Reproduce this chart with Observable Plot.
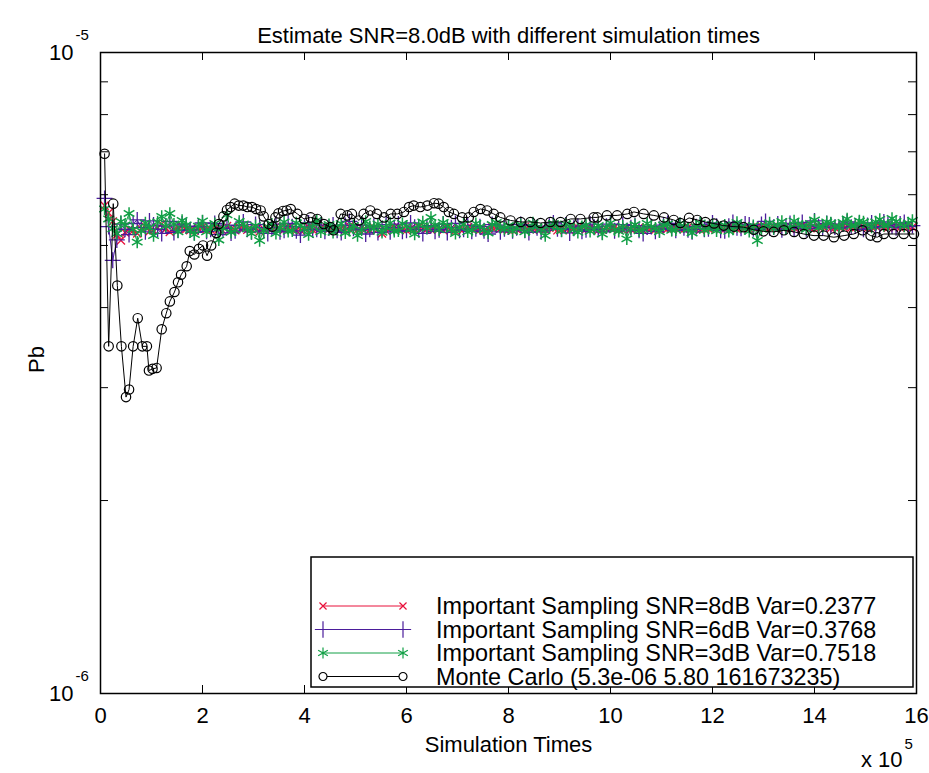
<!DOCTYPE html>
<html>
<head>
<meta charset="utf-8">
<script src="https://cdn.jsdelivr.net/npm/d3@7"></script>
<script src="https://cdn.jsdelivr.net/npm/@observablehq/plot@0.6"></script>
<style>
  html, body { margin: 0; padding: 0; background: white; }
</style>
</head>
<body>
<div id="chart"></div>
<script>
// ---- Data (x in units of 1e5 simulations, Pb in units of 1e-6) ----
const titleText = "Estimate SNR=8.0dB with different simulation times";
const xLabelText = "Simulation Times";
const yLabelText = "Pb";
const xTicks = [0, 2, 4, 6, 8, 10, 12, 14, 16];
const yTicks = [1, 2, 3, 4, 5, 6, 7, 8, 9, 10];
const yTickLabels = [{v: 1, base: "10", exp: "-6"}, {v: 10, base: "10", exp: "-5"}];
const seriesNames = [
  "Important Sampling SNR=8dB Var=0.2377",
  "Important Sampling SNR=6dB Var=0.3768",
  "Important Sampling SNR=3dB Var=0.7518",
  "Monte Carlo (5.3e-06 5.80 161673235)"
];

const isTimes = [
  0.08,0.16,0.24,0.32,0.40,0.48,0.56,0.64,0.72,0.80,0.88,0.96,1.04,1.12,1.20,1.28,1.36,1.44,1.52,1.60,
  1.68,1.76,1.84,1.92,2.00,2.08,2.16,2.24,2.32,2.40,2.48,2.56,2.64,2.72,2.80,2.88,2.96,3.04,3.12,3.20,
  3.28,3.36,3.44,3.52,3.60,3.68,3.76,3.84,3.92,4.00,4.08,4.16,4.24,4.32,4.40,4.48,4.56,4.64,4.72,4.80,
  4.88,4.96,5.04,5.12,5.20,5.28,5.36,5.44,5.52,5.60,5.68,5.76,5.84,5.92,6.00,6.08,6.16,6.24,6.32,6.40,
  6.48,6.56,6.64,6.72,6.80,6.88,6.96,7.04,7.12,7.20,7.28,7.36,7.44,7.52,7.60,7.68,7.76,7.84,7.92,8.00,
  8.08,8.16,8.24,8.32,8.40,8.48,8.56,8.64,8.72,8.80,8.88,8.96,9.04,9.12,9.20,9.28,9.36,9.44,9.52,9.60,
  9.68,9.76,9.84,9.92,10.00,10.08,10.16,10.24,10.32,10.40,10.48,10.56,10.64,10.72,10.80,10.88,10.96,11.04,11.12,11.20,
  11.28,11.36,11.44,11.52,11.60,11.68,11.76,11.84,11.92,12.00,12.08,12.16,12.24,12.32,12.40,12.48,12.56,12.64,12.72,12.80,
  12.88,12.96,13.04,13.12,13.20,13.28,13.36,13.44,13.52,13.60,13.68,13.76,13.84,13.92,14.00,14.08,14.16,14.24,14.32,14.40,
  14.48,14.56,14.64,14.72,14.80,14.88,14.96,15.04,15.12,15.20,15.28,15.36,15.44,15.52,15.60,15.68,15.76,15.84,15.92
];

const is8dB = [
  5.77,5.62,5.45,5.20,5.09,5.24,5.30,5.27,5.22,5.31,5.35,5.26,5.28,5.33,5.40,5.30,5.25,5.29,5.33,5.36,
  5.30,5.28,5.27,5.31,5.34,5.30,5.29,5.33,5.31,5.27,5.36,5.30,5.28,5.34,5.32,5.29,5.30,5.32,5.26,5.31,
  5.33,5.30,5.35,5.32,5.29,5.34,5.31,5.28,5.28,5.31,5.34,5.29,5.30,5.33,5.32,5.30,5.27,5.32,5.31,5.29,
  5.36,5.31,5.29,5.33,5.30,5.28,5.33,5.30,5.22,5.27,5.31,5.33,5.34,5.30,5.28,5.31,5.30,5.34,5.32,5.30,
  5.29,5.32,5.31,5.28,5.33,5.30,5.27,5.31,5.30,5.34,5.32,5.30,5.29,5.27,5.31,5.33,5.34,5.31,5.30,5.29,
  5.28,5.30,5.31,5.34,5.33,5.29,5.30,5.31,5.29,5.33,5.32,5.28,5.31,5.30,5.28,5.32,5.33,5.31,5.30,5.33,
  5.31,5.28,5.29,5.31,5.32,5.34,5.30,5.29,5.33,5.30,5.31,5.33,5.28,5.31,5.32,5.29,5.30,5.33,5.31,5.32,
  5.33,5.31,5.30,5.34,5.32,5.30,5.29,5.32,5.31,5.33,5.34,5.31,5.30,5.35,5.33,5.30,5.32,5.34,5.31,5.33,
  5.34,5.36,5.32,5.33,5.35,5.31,5.33,5.35,5.31,5.33,5.34,5.37,5.36,5.32,5.33,5.34,5.35,5.36,5.32,5.33,
  5.34,5.35,5.36,5.33,5.33,5.37,5.35,5.32,5.34,5.36,5.37,5.34,5.33,5.37,5.35,5.33,5.36,5.35,5.34
];

const is6dB = [
  5.92,5.35,4.74,5.10,5.40,5.30,5.20,5.41,5.48,5.33,5.25,5.46,5.38,5.30,5.22,5.36,5.45,5.24,5.28,5.40,
  5.36,5.29,5.24,5.35,5.42,5.26,5.30,5.41,5.20,5.31,5.38,5.23,5.27,5.37,5.44,5.30,5.25,5.39,5.33,5.27,
  5.22,5.33,5.40,5.25,5.28,5.41,5.35,5.27,5.19,5.34,5.42,5.29,5.30,5.38,5.26,5.33,5.38,5.28,5.24,5.37,
  5.45,5.32,5.29,5.38,5.21,5.30,5.36,5.24,5.31,5.39,5.25,5.33,5.40,5.26,5.28,5.42,5.34,5.29,5.22,5.35,
  5.37,5.26,5.29,5.40,5.24,5.33,5.41,5.28,5.30,5.37,5.26,5.31,5.35,5.27,5.21,5.39,5.38,5.25,5.31,5.34,
  5.27,5.33,5.39,5.28,5.24,5.37,5.33,5.25,5.28,5.36,5.42,5.31,5.30,5.38,5.23,5.32,5.36,5.26,5.29,5.40,
  5.34,5.30,5.25,5.36,5.40,5.27,5.31,5.39,5.27,5.33,5.37,5.28,5.22,5.34,5.35,5.26,5.30,5.38,5.41,5.32,
  5.28,5.37,5.33,5.29,5.25,5.35,5.39,5.30,5.31,5.42,5.36,5.28,5.27,5.36,5.43,5.33,5.32,5.40,5.38,5.31,
  5.30,5.39,5.45,5.33,5.34,5.40,5.29,5.36,5.41,5.31,5.35,5.43,5.31,5.38,5.46,5.35,5.33,5.41,5.38,5.34,
  5.32,5.40,5.44,5.34,5.36,5.41,5.30,5.37,5.42,5.33,5.35,5.44,5.39,5.36,5.33,5.40,5.43,5.35,5.37
];

const is3dB = [
  5.70,5.50,5.31,5.22,5.45,5.38,5.61,5.30,5.06,5.27,5.42,5.33,5.18,5.44,5.55,5.36,5.61,5.40,5.25,5.47,
  5.38,5.28,5.20,5.36,5.46,5.25,5.33,5.41,5.10,5.32,5.58,5.24,5.29,5.45,5.40,5.31,5.22,5.37,5.09,5.27,
  5.35,5.40,5.22,5.33,5.44,5.26,5.27,5.42,5.38,5.31,5.20,5.36,5.47,5.25,5.30,5.39,5.24,5.34,5.41,5.23,
  5.28,5.37,5.18,5.29,5.45,5.35,5.31,5.40,5.24,5.33,5.42,5.26,5.27,5.41,5.36,5.30,5.21,5.38,5.44,5.32,
  5.53,5.38,5.29,5.43,5.37,5.30,5.22,5.34,5.40,5.25,5.28,5.41,5.35,5.29,5.23,5.39,5.43,5.33,5.30,5.37,
  5.26,5.32,5.39,5.25,5.29,5.42,5.34,5.30,5.18,5.36,5.41,5.33,5.27,5.40,5.36,5.29,5.24,5.35,5.38,5.26,
  5.30,5.37,5.21,5.33,5.42,5.29,5.26,5.36,5.12,5.31,5.39,5.27,5.30,5.41,5.35,5.32,5.25,5.38,5.40,5.28,
  5.29,5.41,5.36,5.30,5.23,5.35,5.42,5.28,5.31,5.39,5.27,5.34,5.38,5.26,5.30,5.43,5.35,5.31,5.26,5.37,
  5.09,5.30,5.37,5.42,5.31,5.38,5.45,5.32,5.33,5.46,5.40,5.36,5.30,5.41,5.48,5.33,5.35,5.44,5.42,5.36,
  5.33,5.43,5.50,5.36,5.37,5.46,5.44,5.39,5.34,5.44,5.49,5.37,5.38,5.51,5.45,5.40,5.36,5.42,5.47
];

const mcTimes = [
  0.08,0.16,0.25,0.33,0.41,0.50,0.56,0.64,0.73,0.82,
  0.91,0.95,1.02,1.10,1.20,1.29,1.36,1.45,1.52,1.58,
  1.69,1.75,1.84,1.93,2.01,2.09,2.17,2.27,2.32,2.41,
  2.48,2.55,2.63,2.71,2.80,2.88,2.97,3.05,3.14,3.20,
  3.30,3.37,3.43,3.49,3.58,3.65,3.73,3.86,3.99,4.12,
  4.25,4.38,4.51,4.57,4.71,4.84,4.93,5.07,5.16,5.29,
  5.42,5.56,5.69,5.82,5.95,6.05,6.14,6.27,6.41,6.54,
  6.63,6.73,6.83,6.93,7.09,7.22,7.32,7.45,7.58,7.71,
  7.84,8.04,8.24,8.43,8.63,8.82,9.02,9.22,9.41,9.67,
  9.74,9.93,10.13,10.33,10.46,10.65,10.85,11.05,11.24,11.37,
  11.54,11.70,11.86,12.03,12.22,12.42,12.61,12.81,13.00,13.20,
  13.40,13.60,13.79,13.99,14.18,14.38,14.58,14.77,14.94,15.10,
  15.23,15.36,15.55,15.75,15.95
];
const mcValues = [
  6.95,3.48,5.81,4.33,3.48,2.90,2.98,3.48,3.85,3.48,
  3.48,3.19,3.21,3.22,3.70,3.92,4.09,4.23,4.38,4.50,
  4.64,4.90,4.84,4.94,5.00,4.82,5.00,5.23,5.40,5.55,
  5.68,5.74,5.81,5.77,5.77,5.74,5.74,5.70,5.67,5.55,
  5.40,5.35,5.53,5.61,5.66,5.67,5.70,5.60,5.50,5.53,
  5.50,5.40,5.34,5.28,5.60,5.57,5.60,5.47,5.60,5.67,
  5.60,5.53,5.60,5.60,5.64,5.74,5.77,5.74,5.77,5.82,
  5.81,5.74,5.64,5.60,5.53,5.53,5.64,5.70,5.67,5.60,
  5.53,5.47,5.44,5.44,5.42,5.44,5.44,5.50,5.50,5.53,
  5.53,5.57,5.57,5.60,5.64,5.60,5.57,5.53,5.48,5.42,
  5.52,5.48,5.44,5.41,5.37,5.35,5.34,5.29,5.26,5.25,
  5.28,5.25,5.21,5.18,5.18,5.15,5.18,5.21,5.28,5.18,
  5.15,5.21,5.21,5.21,5.21
];

// ---- Styles ----
const colors = ["#e8103a", "#4b1d9b", "#12a046", "#000000"];
const symbols = ["times", "plus", "asterisk", "circle"];
const symbolR = [3.8, 5.2, 5.8, 4.7];
const symbolSW = [1.3, 1.3, 1.5, 1.2];
const font = "'Liberation Sans', Arial, Helvetica, sans-serif";

const W = 929, H = 773;
const mL = 100, mR = 13, mT = 52, mB = 80;
const plotW = W - mL - mR, plotH = H - mT - mB;

const isSeries = [is8dB, is6dB, is3dB].map((vals, s) =>
  vals.map((v, i) => ({t: isTimes[i], v, s}))
);
const mcSeries = mcValues.map((v, i) => ({t: mcTimes[i], v, s: 3}));
const allSeries = [...isSeries, mcSeries];

const marks = [];
allSeries.forEach((data, s) => {
  marks.push(Plot.line(data, {x: "t", y: "v", stroke: colors[s], strokeWidth: 1}));
  marks.push(Plot.dot(data, {
    x: "t", y: "v", symbol: () => symbols[s], r: symbolR[s],
    stroke: colors[s], fill: "none", strokeWidth: symbolSW[s]
  }));
});

const plot = Plot.plot({
  width: W, height: H,
  marginLeft: mL, marginRight: mR, marginTop: mT, marginBottom: mB,
  style: {fontFamily: font, fontSize: "22px", background: "white", color: "black", overflow: "visible"},
  x: {domain: [0, 16]},
  y: {type: "log", domain: [1, 10]},
  symbol: {type: "identity"},
  marks: [
    ...marks,
    // inward ticks on all four sides
    Plot.tickX(xTicks, {x: d => d, insetTop: plotH - 8, stroke: "black", strokeWidth: 1}),
    Plot.tickX(xTicks, {x: d => d, insetBottom: plotH - 8, stroke: "black", strokeWidth: 1}),
    Plot.tickY(yTicks, {y: d => d, insetRight: plotW - 8, stroke: "black", strokeWidth: 1}),
    Plot.tickY(yTicks, {y: d => d, insetLeft: plotW - 8, stroke: "black", strokeWidth: 1}),
    Plot.frame({stroke: "black", strokeWidth: 1.5}),
    // tick labels
    Plot.axisX({ticks: xTicks, tickSize: 0, tickPadding: 14, tickFormat: d => String(d), label: null, fontSize: 22}),
    Plot.axisY({ticks: yTickLabels.map(d => d.v), tickSize: 0, tickPadding: 27, tickFormat: () => "10", label: null, fontSize: 22}),
    Plot.text(yTickLabels, {y: "v", text: "exp", frameAnchor: "left", dx: -25, dy: -17, textAnchor: "start", fontSize: 15}),
    // titles
    Plot.text([titleText], {frameAnchor: "top", dy: -25, fontSize: 22}),
    Plot.text([xLabelText], {frameAnchor: "bottom", dy: 58, fontSize: 22}),
    Plot.text([yLabelText], {frameAnchor: "left", dx: -64, rotate: -90, fontSize: 22}),
    Plot.text(["x 10"], {frameAnchor: "bottom-right", dx: -14, dy: 73, textAnchor: "end", fontSize: 22}),
    Plot.text(["5"], {frameAnchor: "bottom-right", dx: -12, dy: 55, textAnchor: "start", fontSize: 15})
  ]
});

// ---- Legend (MATLAB-style box inside the axes) ----
const svg = d3.select(plot);
const lg = svg.append("g").attr("font-family", font).attr("font-size", 23.4).attr("text-anchor", "start");
const box = {x: 311, y: 557, w: 602, h: 130};
lg.append("rect").attr("x", box.x).attr("y", box.y).attr("width", box.w).attr("height", box.h)
  .attr("fill", "white").attr("stroke", "black").attr("stroke-width", 1.5);
const symTypes = {times: d3.symbolTimes, plus: d3.symbolPlus, asterisk: d3.symbolAsterisk, circle: d3.symbolCircle};
const legendSymR = [3.3, 5.3, 5.3, 4.0];
seriesNames.forEach((name, i) => {
  const y = 606 + 23.5 * i;
  lg.append("line").attr("x1", 323).attr("x2", 403).attr("y1", y).attr("y2", y)
    .attr("stroke", colors[i]).attr("stroke-width", 1);
  [323, 403].forEach(x => {
    lg.append("path")
      .attr("d", d3.symbol(symTypes[symbols[i]], Math.PI * legendSymR[i] * legendSymR[i])())
      .attr("transform", `translate(${x},${y})`)
      .attr("fill", symbols[i] === "circle" ? "white" : "none")
      .attr("stroke", colors[i]).attr("stroke-width", 1.2);
  });
  lg.append("text").attr("x", 436).attr("y", y).attr("dy", "0.35em").attr("fill", "black")
    .attr("text-anchor", "start").text(name);
});

document.getElementById("chart").appendChild(plot);
</script>
</body>
</html>
